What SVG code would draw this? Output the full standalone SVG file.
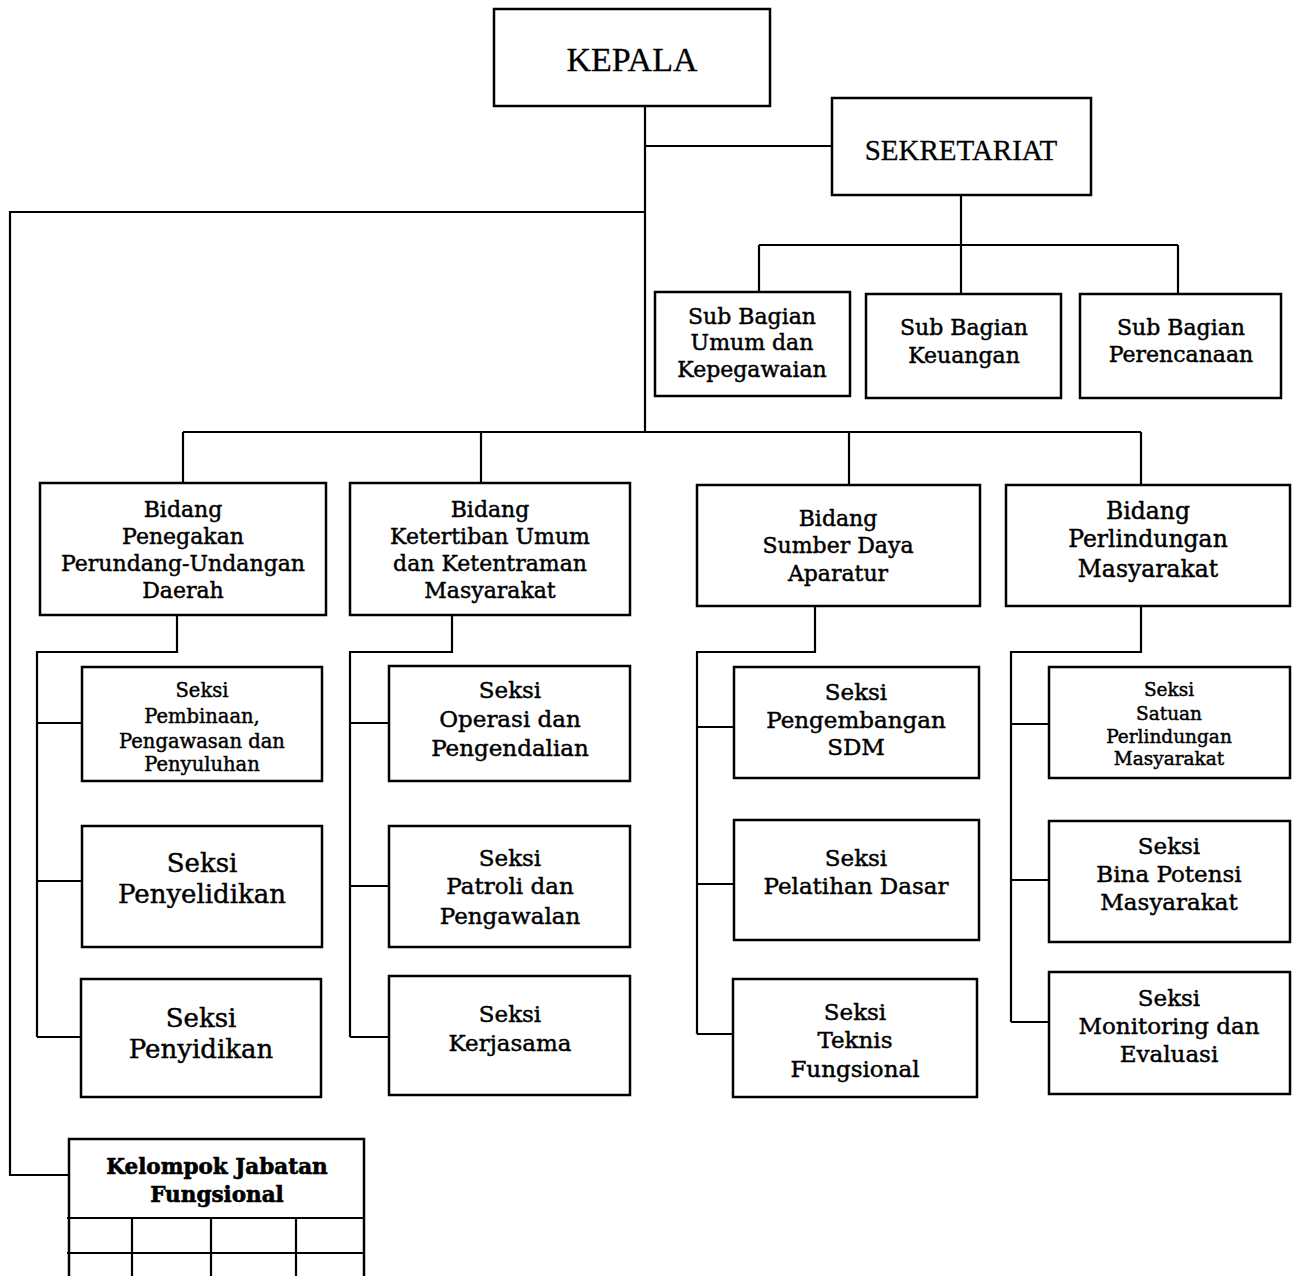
<svg xmlns="http://www.w3.org/2000/svg" width="1298" height="1276" viewBox="0 0 1298 1276">
<style>
.box{fill:#fff;stroke:#000;stroke-width:2.5}
.ln{fill:none;stroke:#000;stroke-width:2.2}
text{font-family:"DejaVu Serif","Liberation Serif",serif;fill:#000;stroke:#000;stroke-width:0.45;text-anchor:middle;dominant-baseline:central}
.t{font-size:22px}
.s{font-size:19.5px}
.xs{font-size:18.5px}
.l{font-size:26px}
.m{font-size:23px}
.b4{font-size:23.5px}
.top{font-family:"Liberation Serif",serif;font-size:34px;stroke-width:0.3}
.top2{font-family:"Liberation Serif",serif;font-size:29px;stroke-width:0.3}
.kb{font-size:21.5px;font-weight:bold;stroke-width:0.6}
</style>
<rect width="1298" height="1276" fill="#fff"/>
<g id="connectors">
<path class="ln" d="M645 106V432M645 146H832M645 212H10V1175H70"/>
<path class="ln" d="M961 195V245M759 245H1178M759 245V292M961 245V294M1178 245V294"/>
<path class="ln" d="M183 432H1141M183 432V483M481 432V483M849 432V485M1141 432V485"/>
<path class="ln" d="M177 615V652H37V1037M37 723H82M37 881H82M37 1037H82"/>
<path class="ln" d="M452 615V652H350V1037M350 723H389M350 886H389M350 1037H389"/>
<path class="ln" d="M815 606V652H697V1034M697 727H734M697 884H734M697 1034H734"/>
<path class="ln" d="M1141 606V652H1011V1022M1011 724H1049M1011 880H1049M1011 1022H1049"/>
</g>
<g id="kepala"><rect class="box" x="494" y="9" width="276" height="97"/><text class="top" x="632" y="59">KEPALA</text></g>
<g id="sekretariat"><rect class="box" x="832" y="98" width="259" height="97"/><text class="top2" x="961" y="150">SEKRETARIAT</text></g>
<g id="subbag-umum"><rect class="box" x="655" y="292" width="195" height="104"/><text class="t" x="752" y="316">Sub Bagian</text><text class="t" x="752" y="342">Umum dan</text><text class="t" x="752" y="369">Kepegawaian</text></g>
<g id="subbag-keuangan"><rect class="box" x="866" y="294" width="195" height="104"/><text class="t" x="964" y="327">Sub Bagian</text><text class="t" x="964" y="355">Keuangan</text></g>
<g id="subbag-perencanaan"><rect class="box" x="1080" y="294" width="201" height="104"/><text class="t" x="1181" y="327">Sub Bagian</text><text class="t" x="1181" y="354">Perencanaan</text></g>
<g id="bidang-ppud"><rect class="box" x="40" y="483" width="286" height="132"/><text class="t" x="183" y="509">Bidang</text><text class="t" x="183" y="536">Penegakan</text><text class="t" x="183" y="563">Perundang-Undangan</text><text class="t" x="183" y="590">Daerah</text></g>
<g id="bidang-tibum"><rect class="box" x="350" y="483" width="280" height="132"/><text class="t" x="490" y="509">Bidang</text><text class="t" x="490" y="536">Ketertiban Umum</text><text class="t" x="490" y="563">dan Ketentraman</text><text class="t" x="490" y="590">Masyarakat</text></g>
<g id="bidang-sda"><rect class="box" x="697" y="485" width="283" height="121"/><text class="t" x="838" y="518">Bidang</text><text class="t" x="838" y="545">Sumber Daya</text><text class="t" x="838" y="573">Aparatur</text></g>
<g id="bidang-linmas"><rect class="box" x="1006" y="485" width="284" height="121"/><text class="b4" x="1148" y="511">Bidang</text><text class="b4" x="1148" y="539">Perlindungan</text><text class="b4" x="1148" y="569">Masyarakat</text></g>
<g id="seksi-pembinaan"><rect class="box" x="82" y="667" width="240" height="114"/><text class="s" x="202" y="690">Seksi</text><text class="s" x="202" y="716">Pembinaan,</text><text class="s" x="202" y="741">Pengawasan dan</text><text class="s" x="202" y="764">Penyuluhan</text></g>
<g id="seksi-penyelidikan"><rect class="box" x="82" y="826" width="240" height="121"/><text class="l" x="202" y="863">Seksi</text><text class="l" x="202" y="894">Penyelidikan</text></g>
<g id="seksi-penyidikan"><rect class="box" x="81" y="979" width="240" height="118"/><text class="l" x="201" y="1018">Seksi</text><text class="l" x="201" y="1049">Penyidikan</text></g>
<g id="seksi-operasi"><rect class="box" x="389" y="666" width="241" height="115"/><text class="m" x="510" y="690">Seksi</text><text class="m" x="510" y="719">Operasi dan</text><text class="m" x="510" y="748">Pengendalian</text></g>
<g id="seksi-patroli"><rect class="box" x="389" y="826" width="241" height="121"/><text class="m" x="510" y="858">Seksi</text><text class="m" x="510" y="886">Patroli dan</text><text class="m" x="510" y="916">Pengawalan</text></g>
<g id="seksi-kerjasama"><rect class="box" x="389" y="976" width="241" height="119"/><text class="m" x="510" y="1014">Seksi</text><text class="m" x="510" y="1043">Kerjasama</text></g>
<g id="seksi-sdm"><rect class="box" x="734" y="667" width="245" height="111"/><text class="m" x="856" y="692">Seksi</text><text class="m" x="856" y="720">Pengembangan</text><text class="m" x="856" y="747">SDM</text></g>
<g id="seksi-latsar"><rect class="box" x="734" y="820" width="245" height="120"/><text class="m" x="856" y="858">Seksi</text><text class="m" x="856" y="886">Pelatihan Dasar</text></g>
<g id="seksi-teknis"><rect class="box" x="733" y="979" width="244" height="118"/><text class="m" x="855" y="1012">Seksi</text><text class="m" x="855" y="1040">Teknis</text><text class="m" x="855" y="1069">Fungsional</text></g>
<g id="seksi-satuan"><rect class="box" x="1049" y="667" width="241" height="111"/><text class="xs" x="1169" y="689">Seksi</text><text class="xs" x="1169" y="713">Satuan</text><text class="xs" x="1169" y="736">Perlindungan</text><text class="xs" x="1169" y="758">Masyarakat</text></g>
<g id="seksi-bina"><rect class="box" x="1049" y="821" width="241" height="121"/><text class="m" x="1169" y="846">Seksi</text><text class="m" x="1169" y="874">Bina Potensi</text><text class="m" x="1169" y="902">Masyarakat</text></g>
<g id="seksi-monev"><rect class="box" x="1049" y="972" width="241" height="122"/><text class="m" x="1169" y="998">Seksi</text><text class="m" x="1169" y="1026">Monitoring dan</text><text class="m" x="1169" y="1054">Evaluasi</text></g>
<g id="kelompok-jabatan-fungsional">
<path class="box" d="M69 1280V1139H364V1280"/>
<path class="ln" d="M67 1218H364M67 1253H364M132 1218V1280M211 1218V1280M296 1218V1280"/>
<text class="kb" x="217" y="1166">Kelompok Jabatan</text><text class="kb" x="217" y="1194">Fungsional</text>
</g>
</svg>
